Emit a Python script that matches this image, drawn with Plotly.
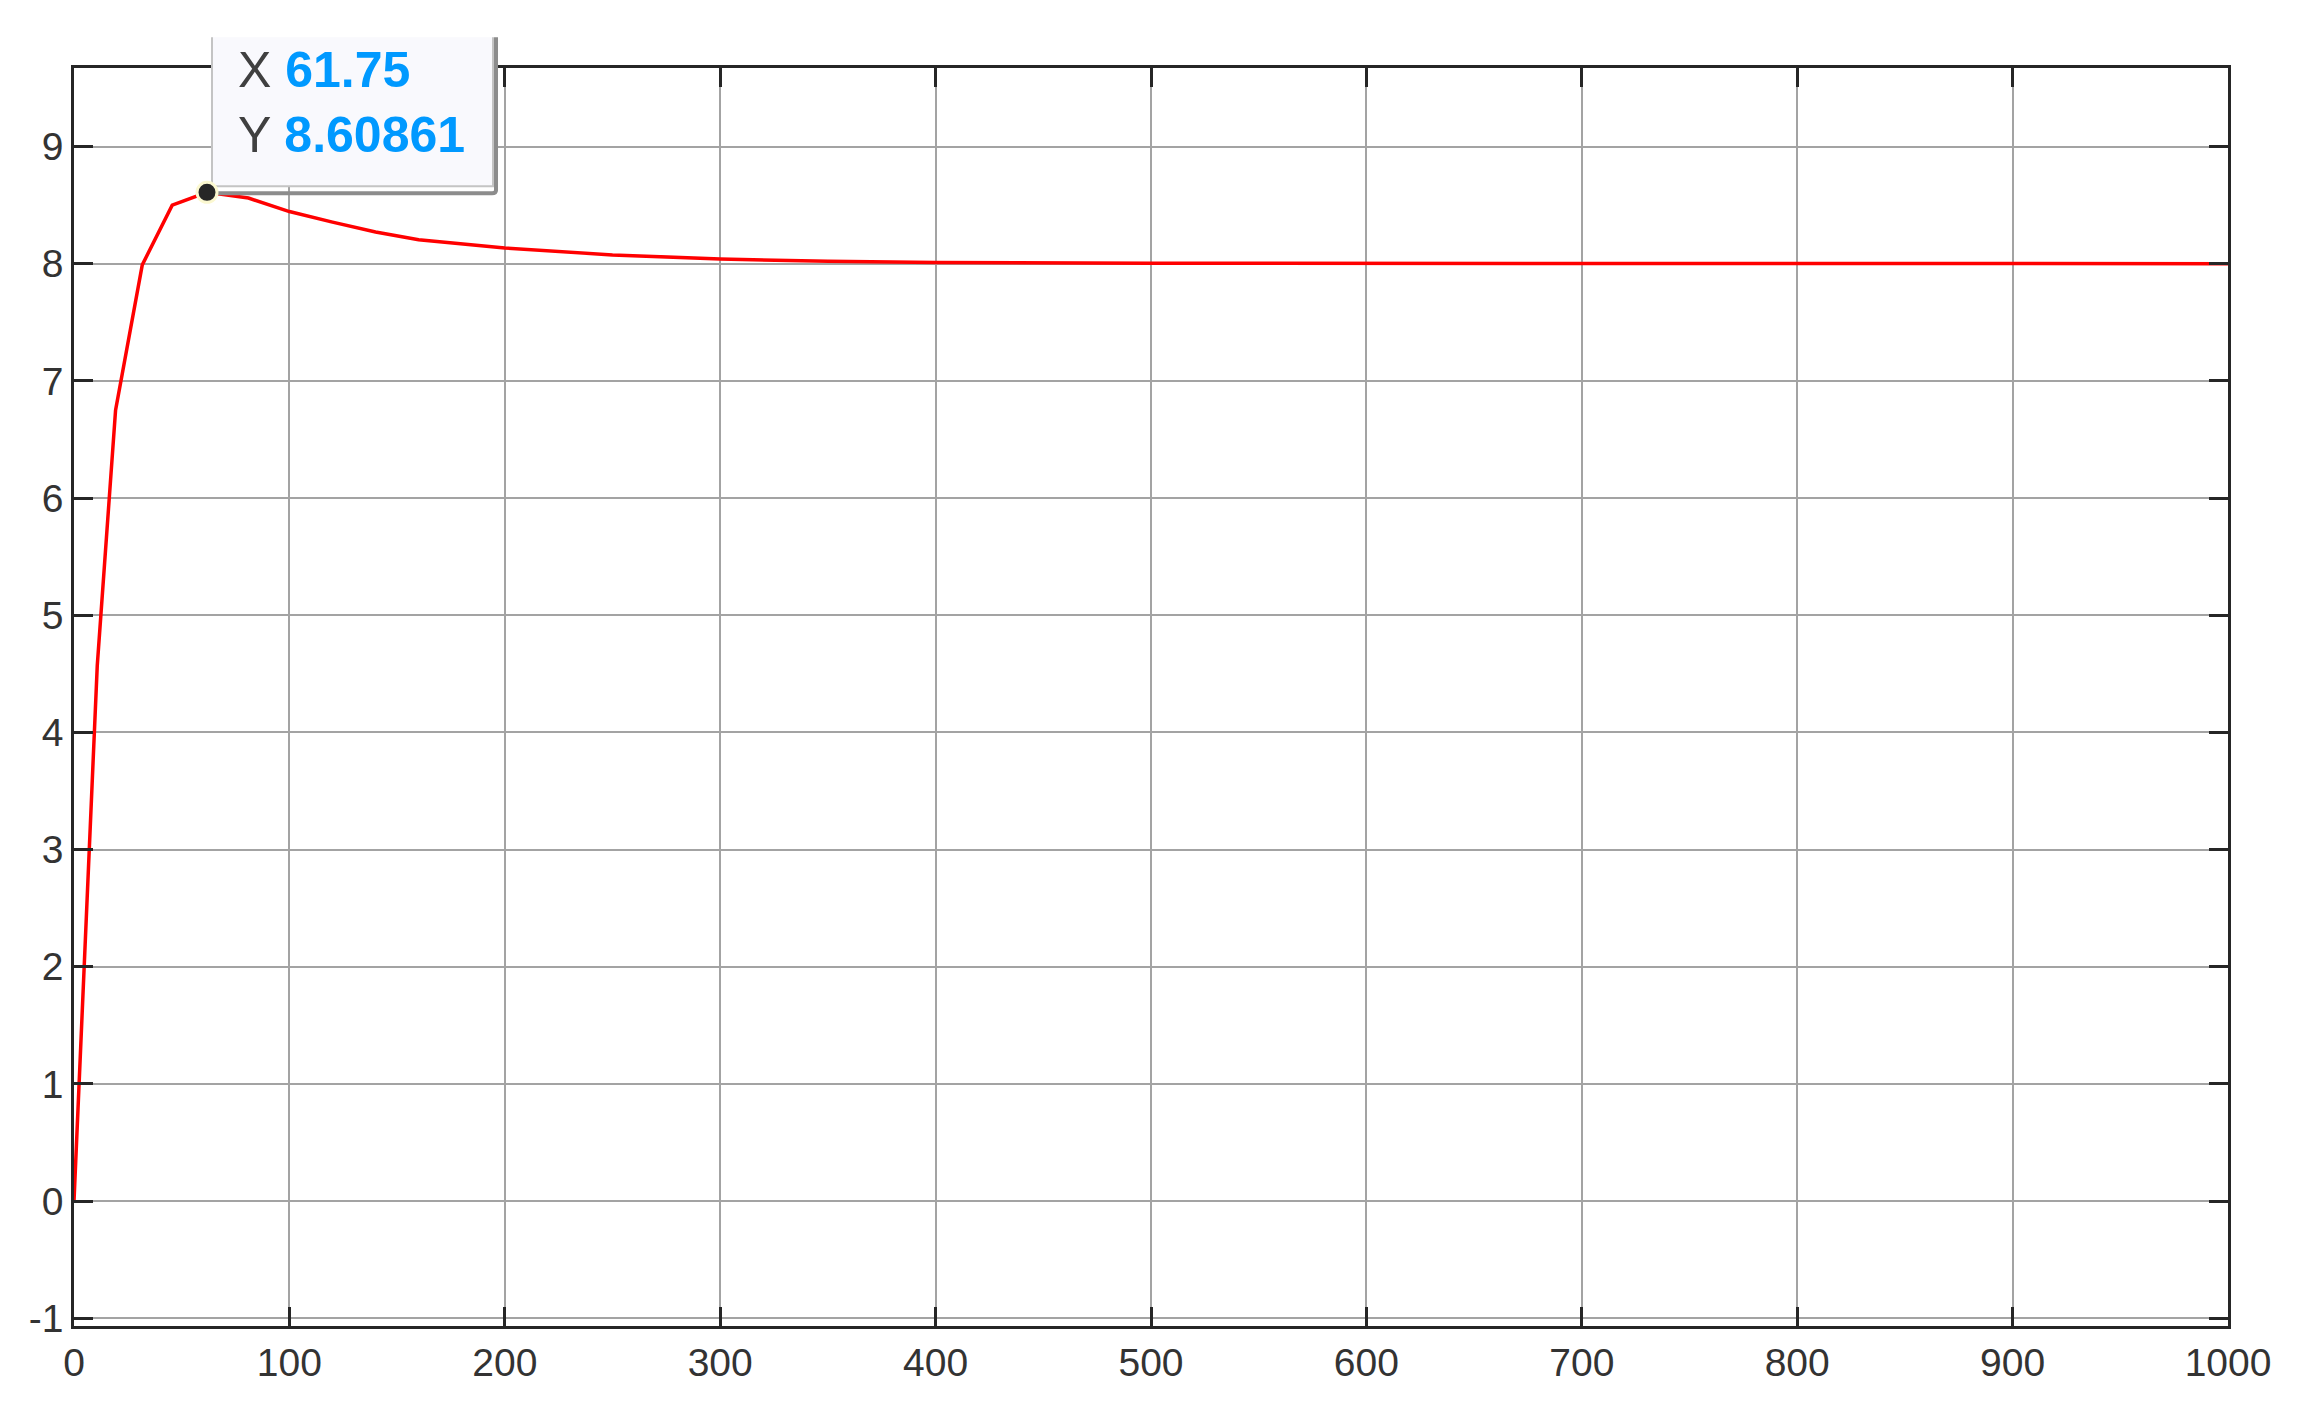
"""Step response with a MATLAB-style datatip on the overshoot peak."""

import plotly.graph_objects as go

# simulation output (variable-step solver samples)
t = [0, 10.8, 19.3, 31.7, 45.6, 61.75, 81, 100, 120, 140, 160, 200, 250, 300, 350, 400, 500, 600, 1000]
y = [0, 4.57, 6.75, 7.99, 8.50, 8.60861, 8.56, 8.445, 8.355, 8.27, 8.205, 8.134, 8.075, 8.04, 8.02, 8.01, 8.003, 8.001, 8.0]

# datatip location
tip_x = 61.75
tip_y = 8.60861

x_ticks = [0, 100, 200, 300, 400, 500, 600, 700, 800, 900, 1000]
y_ticks = [-1, 0, 1, 2, 3, 4, 5, 6, 7, 8, 9]
y_tick_text = ["-1", "0", "1", "2", "3", "4", "5", "6", "7", "8", "9"]

x_range = [0, 1000]
y_range = [-1.066, 9.67]

FONT = "Arial, Liberation Sans, Helvetica, sans-serif"
AXIS_COLOR = "#262626"
GRID_COLOR = "#a3a3a3"

fig = go.Figure()
fig.add_trace(
    go.Scatter(
        x=t,
        y=y,
        mode="lines",
        line=dict(color="#ff0000", width=3.5),
        hoverinfo="skip",
        showlegend=False,
    )
)

axis_style = dict(
    showline=True,
    linecolor=AXIS_COLOR,
    linewidth=2.5,
    mirror="ticks",
    ticks="inside",
    ticklen=19,
    tickwidth=2.5,
    tickcolor=AXIS_COLOR,
    showgrid=True,
    gridcolor=GRID_COLOR,
    gridwidth=2,
    zeroline=False,
    tickfont=dict(family=FONT, size=39, color="#333333"),
)

fig.update_xaxes(axis_style, range=x_range, tickvals=x_ticks)
fig.update_yaxes(axis_style, range=y_range, tickvals=y_ticks, ticktext=y_tick_text)

# datatip: paper-anchored so it may run past the top of the axes
tip_px = (tip_x - x_range[0]) / (x_range[1] - x_range[0])
tip_py = (tip_y - y_range[0]) / (y_range[1] - y_range[0])
tip_anchor = dict(
    xref="paper", yref="paper", xsizemode="pixel", ysizemode="pixel",
    xanchor=tip_px, yanchor=tip_py, layer="above",
)
# shadow on the right and bottom edges
fig.add_shape(
    type="path",
    path="M 289,155 L 289,2 Q 289,-1 285,-1 L 7,-1",
    line=dict(color="#8c8c8c", width=4),
    **tip_anchor,
)
# panel, its top edge is cut off by the image border
fig.add_shape(
    type="path",
    path="M 5,155 L 5,6 L 286,6 L 286,155",
    fillcolor="#f9f9fd",
    line=dict(color="#c4c4c4", width=2),
    **tip_anchor,
)
fig.add_shape(
    type="circle",
    x0=-10, x1=10, y0=-10, y1=10,
    fillcolor="#262626",
    line=dict(color="#fbf8d0", width=3),
    **tip_anchor,
)

fig.add_annotation(
    x=tip_x,
    y=tip_y,
    xref="x",
    yref="y",
    xanchor="left",
    yanchor="bottom",
    xshift=30,
    yshift=28,
    showarrow=False,
    align="left",
    borderpad=0,
    text=(
        f"X <b><span style='color:#0099ff'>{tip_x:g}</span></b><br>"
        f"Y <b><span style='color:#0099ff'>{tip_y:.5f}</span></b>"
    ),
    font=dict(family=FONT, size=50, color="#404040"),
)

# page body adds an 8px offset, so the figure is 8px smaller each way
fig.update_layout(
    width=2294,
    height=1408,
    margin=dict(l=66, r=74, t=60, b=90),
    paper_bgcolor="white",
    plot_bgcolor="white",
    showlegend=False,
)

fig.write_html("out.html")
